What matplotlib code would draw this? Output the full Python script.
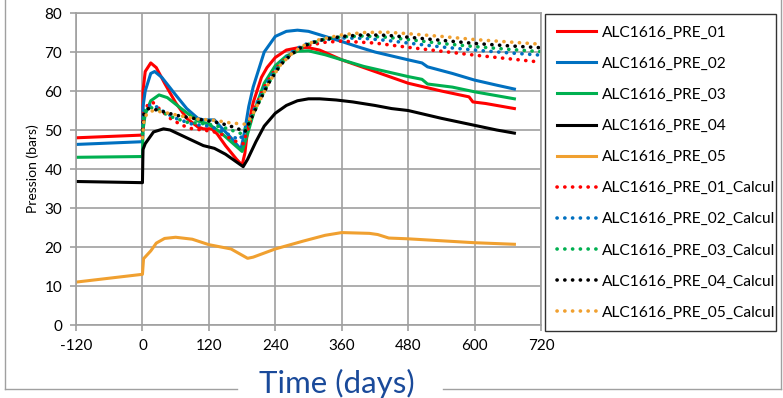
import numpy as np
import matplotlib
matplotlib.use('Agg')
import matplotlib.pyplot as plt
from matplotlib.lines import Line2D

plt.rcParams['font.family'] = ['Lato', 'DejaVu Sans']
plt.rcParams['axes.unicode_minus'] = False

# measured pressures (days, bars)
days_01 = [-120, 0, 1, 5, 15, 25, 40, 60, 80, 100, 110, 125, 135, 150, 170, 180, 185, 190, 200, 215, 225, 240, 260, 285, 300, 320, 360, 400, 440, 480, 540, 590, 597, 620, 672]
pre_01 = [48.0, 48.7, 60, 65, 67.2, 66, 62, 57, 53, 50.8, 50.3, 50.3, 49, 46, 42.5, 41, 44, 50, 57, 63.5, 66, 68.6, 70.5, 71.2, 71.1, 70.5, 68, 66, 64, 62, 60, 58.5, 57.2, 56.8, 55.5]

days_02 = [-120, 0, 1, 5, 15, 22, 35, 60, 80, 100, 110, 130, 140, 160, 178, 185, 192, 200, 220, 240, 260, 280, 300, 330, 360, 390, 420, 480, 505, 515, 560, 600, 640, 672]
pre_02 = [46.3, 47.0, 56, 60, 64.5, 65, 63.5, 59, 55.5, 53, 52.6, 52.6, 51, 48, 45, 50, 56, 61, 70, 74, 75.3, 75.6, 75.3, 74, 72.7, 71.3, 70, 68, 67.2, 66.2, 64.5, 62.8, 61.5, 60.5]

days_03 = [-120, 0, 1, 5, 15, 30, 45, 70, 100, 120, 140, 160, 180, 190, 200, 220, 240, 260, 280, 300, 330, 360, 400, 440, 480, 505, 515, 560, 600, 640, 672]
pre_03 = [43.0, 43.2, 50, 54, 57.5, 59, 58.3, 55.5, 52.3, 51.5, 49.5, 47, 44.5, 49, 54, 62, 66.5, 69, 70.2, 70.3, 69.3, 68, 66.3, 65, 63.7, 63, 61.8, 61, 59.8, 58.8, 58.0]

days_04 = [-120, 0, 1, 5, 20, 38, 50, 80, 110, 130, 150, 170, 182, 190, 205, 220, 240, 260, 280, 300, 320, 350, 380, 420, 450, 480, 510, 540, 600, 640, 672]
pre_04 = [36.8, 36.5, 45, 46.5, 49.5, 50.3, 50, 48, 46, 45.3, 43.8, 41.8, 40.6, 42.5, 47, 51, 54.3, 56.3, 57.5, 58, 58, 57.7, 57.2, 56.3, 55.5, 55, 54, 53, 51.2, 50, 49.2]

days_05 = [-120, -60, 0, 2, 15, 25, 40, 60, 90, 120, 160, 190, 200, 240, 290, 330, 360, 410, 425, 445, 480, 540, 600, 672]
pre_05 = [11.0, 12.0, 13.0, 17, 19, 21, 22.2, 22.5, 22, 20.6, 19.5, 17.1, 17.4, 19.5, 21.5, 23.0, 23.7, 23.5, 23.2, 22.3, 22.1, 21.6, 21.1, 20.7]

# simulated pressures
days_01c = [0, 3, 10, 18, 30, 50, 70, 90, 110, 130, 150, 170, 182, 190, 200, 220, 240, 260, 280, 300, 330, 360, 420, 480, 540, 600, 660, 720]
calc_01 = [48.5, 55, 56.5, 57.2, 55.5, 53, 51.3, 50.3, 50, 49.5, 48.5, 47, 46.5, 50, 54.5, 61, 65.5, 68.5, 70.5, 71.7, 72.5, 72.8, 72.3, 71.2, 70.2, 69.2, 68.3, 67.4]

days_02c = [0, 3, 12, 20, 35, 60, 90, 120, 140, 160, 175, 185, 195, 210, 230, 250, 270, 290, 320, 360, 400, 440, 480, 540, 600, 660, 720]
calc_02 = [49, 55, 56.3, 56.5, 55, 53, 51.5, 51, 50, 48.5, 47.5, 49.5, 53, 58, 63.5, 67.3, 70, 71.8, 73, 73.6, 73.5, 73, 72.3, 71.3, 70.5, 69.8, 69.2]

days_03c = [0, 3, 12, 25, 50, 80, 120, 150, 180, 190, 200, 220, 240, 260, 280, 300, 330, 360, 400, 440, 480, 540, 600, 660, 720]
calc_03 = [49, 54.5, 55.8, 55.5, 53.5, 52, 51.5, 50.5, 49, 51, 54, 60, 65, 68.5, 70.5, 72, 73.3, 73.9, 74.1, 73.8, 73.2, 72.2, 71.4, 70.7, 70.1]

days_04c = [0, 3, 12, 30, 60, 100, 140, 170, 185, 195, 210, 230, 250, 270, 290, 320, 360, 400, 440, 480, 540, 600, 660, 720]
calc_04 = [50, 54.5, 55.6, 55, 53.8, 52.8, 51.8, 50.5, 49.5, 52.5, 57, 62.5, 66.8, 69.5, 71.5, 73, 74, 74.4, 74.3, 73.8, 73, 72.2, 71.6, 71.1]

days_05c = [0, 3, 10, 20, 40, 70, 100, 130, 160, 185, 195, 210, 230, 250, 270, 290, 320, 360, 400, 440, 480, 540, 600, 660, 720]
calc_05 = [48, 53, 54.5, 55, 54.5, 53.6, 52.8, 52.5, 51.8, 51.5, 53, 57, 62.5, 66.8, 69.6, 71.6, 73.2, 74.4, 75, 75.1, 74.7, 74, 73.2, 72.6, 72.0]

names = ['ALC1616_PRE_01', 'ALC1616_PRE_02', 'ALC1616_PRE_03', 'ALC1616_PRE_04', 'ALC1616_PRE_05']
colors = ['#FF0000', '#0070C0', '#00B050', '#000000', '#F0A030']

measured = [(days_01, pre_01), (days_02, pre_02), (days_03, pre_03), (days_04, pre_04), (days_05, pre_05)]
computed = [(days_01c, calc_01), (days_02c, calc_02), (days_03c, calc_03), (days_04c, calc_04), (days_05c, calc_05)]

fig = plt.figure(figsize=(7.83, 3.98), dpi=100)
ax = fig.add_axes([0.0971, 0.1834, 0.5938, 0.7839])

for (d, p), name, c in zip(measured, names, colors):
    ax.plot(d, p, color=c, lw=2.2, label=name, solid_joinstyle='round')
for (d, p), name, c in zip(computed, names, colors):
    ax.plot(d, p, color=c, lw=2.6, linestyle=(0, (0.05, 2.1)), dash_capstyle='round',
            label=name + '_Calcul')

ax.set_xlim(-120, 720)
ax.set_ylim(0, 80)
ax.set_xticks(np.arange(-120, 721, 120))
ax.set_yticks(np.arange(0, 81, 10))
ax.grid(True, color='#A0A0A0', lw=1.2)
ax.set_axisbelow(True)
for s in ax.spines.values():
    s.set_color('#A0A0A0')
    s.set_linewidth(1.2)
ax.tick_params(length=4, width=1.2, color='#A0A0A0', labelsize=11, pad=6)
ax.set_ylabel('Pression (bars)', fontsize=10, labelpad=4)

leg = ax.legend(loc='upper left', bbox_to_anchor=(0.696, 0.1834, 0.295, 0.7814),
                bbox_transform=fig.transFigure, mode='expand', fontsize=11.2,
                frameon=True, fancybox=False, borderaxespad=0, handlelength=2.5,
                handletextpad=0.4, labelspacing=1.1, borderpad=0.75)
leg.get_frame().set_edgecolor('black')
leg.get_frame().set_linewidth(1.0)

fig.text(0.43, 0.0, 'Time (days)', fontsize=22.5, color='#1A4A9A', ha='center', va='bottom')

# outer chart border, broken under the axis title
border = '#A0A0A0'
yb = 1 - 389 / 398
fig.add_artist(Line2D([4.5 / 783, 4.5 / 783], [yb, 1], color=border, lw=1))
fig.add_artist(Line2D([780.5 / 783, 780.5 / 783], [yb, 1], color=border, lw=1))
fig.add_artist(Line2D([4.5 / 783, 237 / 783], [yb, yb], color=border, lw=1))
fig.add_artist(Line2D([443 / 783, 780.5 / 783], [yb, yb], color=border, lw=1))

fig.savefig('out.png', dpi=100)
